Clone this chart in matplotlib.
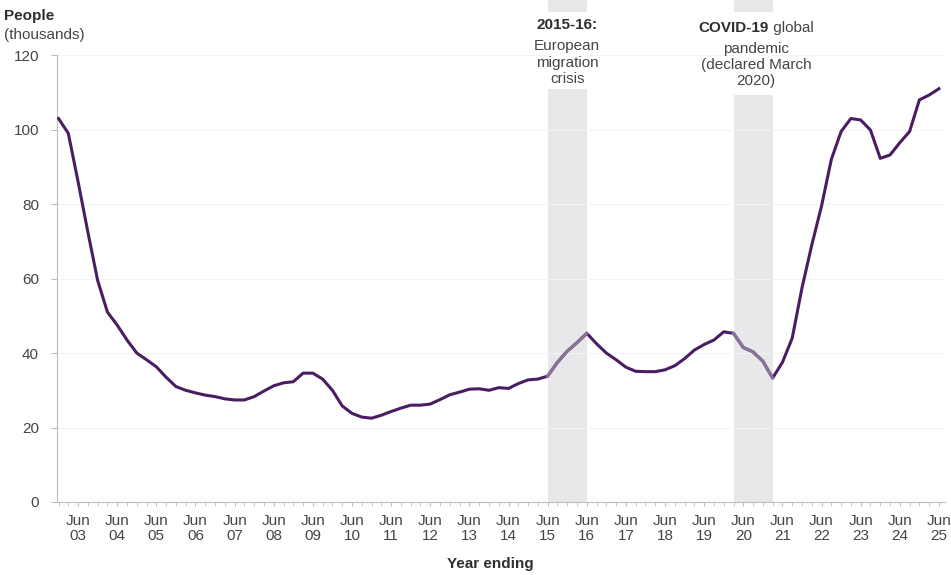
import numpy as np
import matplotlib
matplotlib.use("Agg")
import matplotlib.pyplot as plt
from matplotlib.ticker import MultipleLocator
from matplotlib.patches import Rectangle
from matplotlib.transforms import offset_copy

plt.rcParams['font.family'] = ['Liberation Sans', 'DejaVu Sans']

# quarterly values, year ending Dec 2002 .. Jun 2025 (thousands of people)
people = [
    103, 99, 86, 72.5, 59.5,            # Dec02 - Dec03
    51, 47.5, 43.5, 40,                 # 2004
    38.2, 36.3, 33.5, 31,               # 2005
    30, 29.3, 28.7, 28.3,               # 2006
    27.7, 27.4, 27.4, 28.3,             # 2007
    29.8, 31.2, 32, 32.3,               # 2008
    34.6, 34.6, 33, 30,                 # 2009
    25.8, 23.8, 22.8, 22.5,             # 2010
    23.3, 24.3, 25.2, 26,               # 2011
    26, 26.3, 27.5, 28.8,               # 2012
    29.5, 30.3, 30.4, 30,               # 2013
    30.7, 30.5, 31.8, 32.8,             # 2014
    33, 33.8, 37.5, 40.5,               # 2015
    42.8, 45.3, 42.5, 40,               # 2016
    38.2, 36.2, 35.1, 35,               # 2017
    35, 35.5, 36.6, 38.5,               # 2018
    40.8, 42.3, 43.5, 45.7,             # 2019
    45.3, 41.5, 40.3, 37.8,             # 2020
    33.3, 37.5, 44, 57.5,               # 2021
    69, 79.5, 92, 99.5,                 # 2022
    103, 102.6, 99.9, 92.3,             # 2023
    93.2, 96.5, 99.5, 108,              # 2024
    109.3, 111,                         # 2025
]
years = ['03', '04', '05', '06', '07', '08', '09', '10', '11', '12', '13', '14',
         '15', '16', '17', '18', '19', '20', '21', '22', '23', '24', '25']
# shaded periods as quarter indices (0 = Dec 02)
migration_span = (50, 54)   # Jun 15 - Jun 16
covid_span = (69, 73)       # Mar 20 - Mar 21

x = np.arange(len(people))
y = np.array(people)

fig = plt.figure(figsize=(9.51, 5.75), dpi=100)
ax = fig.add_axes([0.06, 0.127, 0.934, 0.777])

grey = '#bdbdbd'
txt = '#454545'
dark = '#2e2e2e'
purple = '#4a1d63'
light = '#8a7398'
fs = 11

for a, b in (migration_span, covid_span):
    ax.axvspan(a, b, ymin=0, ymax=1.123, color='#e8e8ea', lw=0, clip_on=False, zorder=0)

ax.plot(x, y, color=purple, lw=2.2, solid_joinstyle='round', zorder=3)
for a, b in (migration_span, covid_span):
    ax.plot(x[a:b + 1], y[a:b + 1], color=light, lw=2.2, zorder=4)

ax.set_xlim(-0.15, 90.65)
ax.set_ylim(0, 120)
ax.yaxis.set_major_locator(MultipleLocator(20))
ax.grid(axis='y', color='#f3f3f3', lw=0.8)
ax.set_axisbelow(True)

jun_pos = [2 + 4 * i for i in range(len(years))]
ax.set_xticks(jun_pos)
ax.set_xticklabels(['Jun\n' + yy for yy in years], fontsize=fs, color=txt, linespacing=1.05)
ax.set_xticks(x, minor=True)
ax.tick_params(axis='x', which='both', length=3, color=grey, pad=6)
ax.tick_params(axis='y', length=4, color=grey, labelsize=fs, labelcolor=txt, pad=9)

for s in ('top', 'right'):
    ax.spines[s].set_visible(False)
for s in ('left', 'bottom'):
    ax.spines[s].set_color(grey)

fig.text(0.004, 0.972, 'People', fontsize=fs, fontweight='bold', color=dark, va='center')
fig.text(0.004, 0.939, '(thousands)', fontsize=fs, color=txt, va='center')
fig.text(0.516, 0.012, 'Year ending', fontsize=fs, fontweight='bold', color=dark, ha='center')

# white boxes behind the annotation text
ax.add_patch(Rectangle((migration_span[0], 111.0), migration_span[1] - migration_span[0], 20.5,
                       facecolor='white', edgecolor='none', clip_on=False, zorder=1))
ax.add_patch(Rectangle((covid_span[0], 109.3), covid_span[1] - covid_span[0], 22.2,
                       facecolor='white', edgecolor='none', clip_on=False, zorder=1))

mx = np.mean(migration_span)
ax.text(mx, 128.1, '2015-16:', ha='center', va='center',
        fontsize=fs, fontweight='bold', color=dark, zorder=5)
ax.text(mx, 118.0, 'European\nmigration\ncrisis', ha='center', va='center',
        fontsize=fs, color=txt, linespacing=1.2, zorder=5)

cx = np.mean(covid_span) + 0.3
t1 = ax.text(cx, 127.3, 'COVID-19', ha='right', va='center',
             fontsize=fs, fontweight='bold', color=dark, zorder=5)
t2 = ax.text(cx, 127.3, '\u00a0global', ha='left', va='center',
             fontsize=fs, color=txt, zorder=5)
r = fig.canvas.get_renderer()
w1 = t1.get_window_extent(r).width
w2 = t2.get_window_extent(r).width
shift = (w1 - w2) / 2 * 72 / fig.dpi
t1.set_transform(offset_copy(ax.transData, fig=fig, x=shift, y=0, units='points'))
t2.set_transform(offset_copy(ax.transData, fig=fig, x=shift, y=0, units='points'))
ax.text(cx, 117.3, 'pandemic\n(declared March\n2020)', ha='center', va='center',
        fontsize=fs, color=txt, linespacing=1.2, zorder=5)

fig.savefig('out.png', dpi=100)
